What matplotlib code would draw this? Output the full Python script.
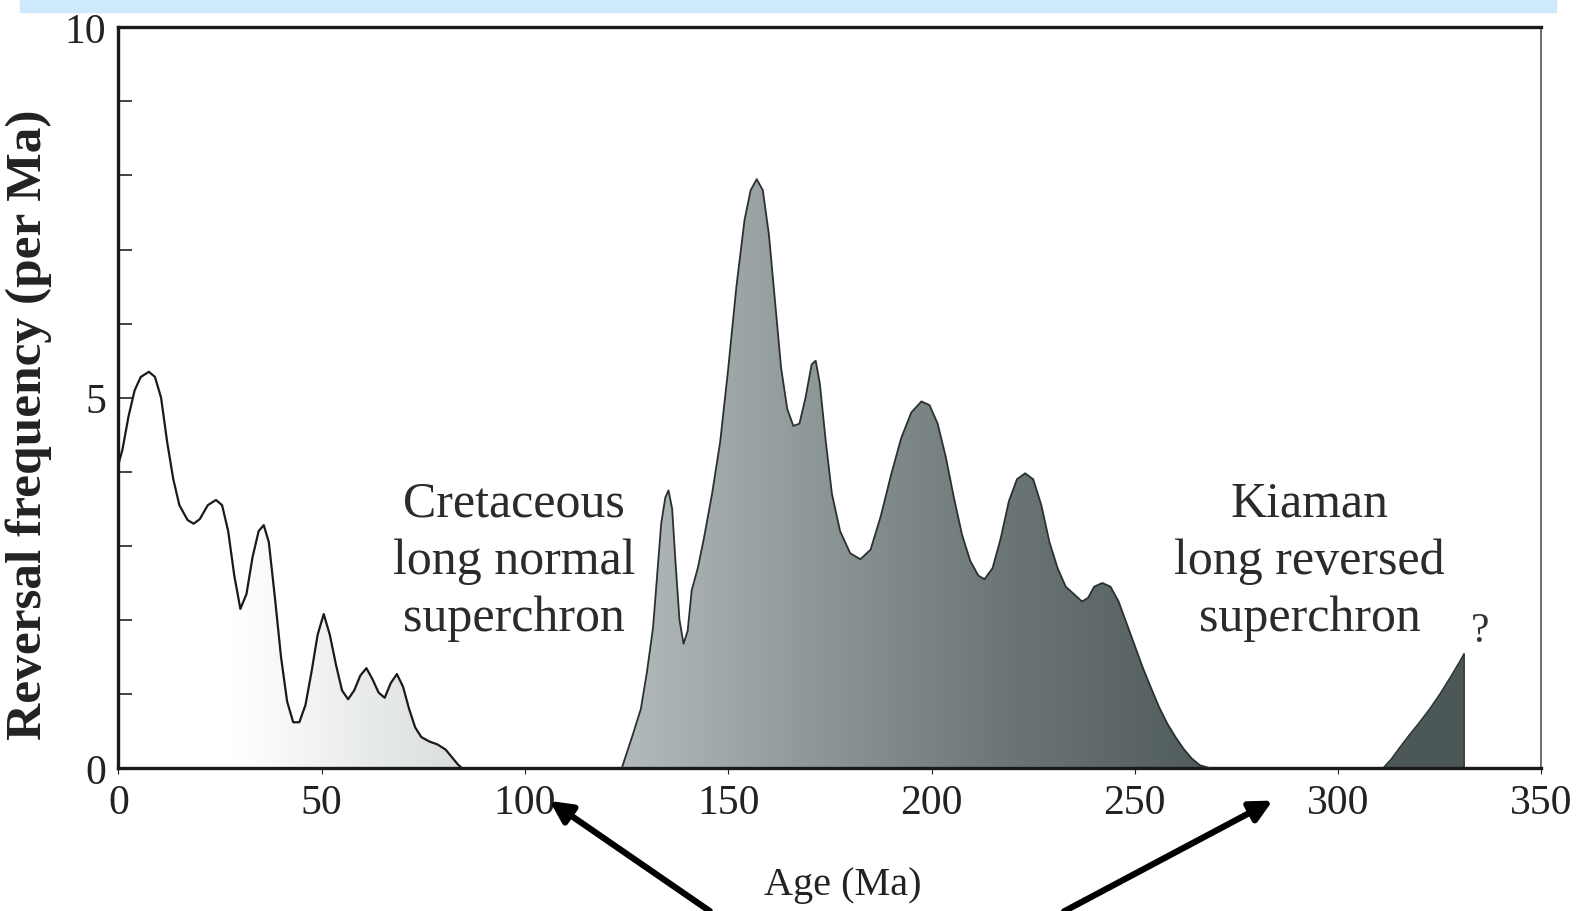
import matplotlib
matplotlib.use('Agg')
import matplotlib.pyplot as plt
import numpy as np
from matplotlib.colors import LinearSegmentedColormap
from matplotlib.patches import Rectangle

# young interval (0-85 Ma), drawn as an outlined curve
age_young = [0, 1, 2.5, 4, 5.5, 7.5, 9, 10.5, 12, 13.5, 15, 17, 18.5, 20, 22, 24, 25.5, 27,
             28.5, 30, 31.5, 33, 34.5, 35.75, 37, 38.5, 40, 41.5, 43, 44.5, 46, 47.5, 49,
             50.5, 52, 53.5, 55, 56.5, 58, 59.5, 61, 62.5, 64, 65.5, 67, 68.5, 70, 71.5,
             73, 74.5, 76.5, 78.5, 80.5, 82, 83.5, 84.5]
freq_young = [4.1, 4.3, 4.75, 5.1, 5.28, 5.35, 5.28, 5.0, 4.4, 3.9, 3.55, 3.35, 3.3, 3.36,
              3.55, 3.62, 3.55, 3.2, 2.6, 2.15, 2.35, 2.85, 3.2, 3.28, 3.05, 2.3, 1.5, 0.9,
              0.62, 0.62, 0.85, 1.3, 1.8, 2.08, 1.8, 1.4, 1.05, 0.93, 1.05, 1.25, 1.35, 1.2,
              1.02, 0.95, 1.15, 1.27, 1.1, 0.8, 0.55, 0.42, 0.36, 0.32, 0.25, 0.15, 0.05, 0.0]

# Jurassic-Triassic interval (124-269 Ma), shaded
age_mid = [123.8, 125, 126.5, 128.5, 130, 131.5, 132.5, 133.5, 134.5, 135.3, 136.2, 137,
           138, 139, 140, 141, 142.5, 144, 146, 148, 150, 152, 154, 155.5, 157, 158.5,
           160, 161.5, 163, 164.5, 166, 167.5, 169, 170.5, 171.5, 172.5, 174, 175.5,
           177.5, 180, 182.5, 185, 187.5, 190, 192.5, 195, 197.5, 199.5, 201.5, 203.5,
           205.5, 207.5, 209.5, 211.5, 213, 215, 217, 219, 221, 223, 225, 227, 229, 231,
           233, 235, 237, 238.5, 240, 242, 244, 246, 248, 250, 252, 254, 256, 258, 260,
           262, 264, 266, 268.5]
freq_mid = [0.0, 0.2, 0.45, 0.8, 1.3, 1.9, 2.6, 3.3, 3.65, 3.75, 3.5, 2.8,
            2.0, 1.68, 1.85, 2.4, 2.7, 3.1, 3.7, 4.4, 5.4, 6.5, 7.4, 7.8, 7.95, 7.8,
            7.2, 6.3, 5.4, 4.85, 4.62, 4.65, 5.0, 5.45, 5.5, 5.2, 4.4, 3.7,
            3.2, 2.9, 2.82, 2.95, 3.4, 3.95, 4.45, 4.8, 4.95, 4.9, 4.65, 4.2,
            3.65, 3.15, 2.8, 2.6, 2.55, 2.7, 3.1, 3.6, 3.9, 3.98, 3.9, 3.55, 3.05, 2.7,
            2.45, 2.35, 2.25, 2.3, 2.45, 2.5, 2.45, 2.25, 1.95, 1.65, 1.35, 1.08, 0.82, 0.6, 0.42,
            0.26, 0.13, 0.04, 0.0]

# oldest interval (311-331 Ma), shaded, cut off at record end
age_old = [311, 313, 315, 317.5, 320, 322.5, 325, 327.5, 330, 331, 331]
freq_old = [0.0, 0.12, 0.27, 0.45, 0.62, 0.8, 1.0, 1.22, 1.45, 1.55, 0.0]

x_ticks = [0, 50, 100, 150, 200, 250, 300, 350]
y_ticks = [0, 5, 10]

plt.rcParams['font.family'] = ['Liberation Serif', 'DejaVu Serif']

fig = plt.figure(figsize=(15.87, 9.12), dpi=100)
fig.patches.append(Rectangle((20 / 1587, 1 - 13 / 912), 1536 / 1587, 13 / 912,
                             transform=fig.transFigure, color='#cde9fb', zorder=0))
ax = fig.add_axes([0.0746, 0.1566, 0.8967, 0.8124])

ax.set_xlim(0, 350)
ax.set_ylim(0, 10)

grad = np.linspace(0, 1, 256).reshape(1, -1)

# faint fill under the young curve
cmap_young = LinearSegmentedColormap.from_list('y', ['#ffffff', '#ffffff', '#eceeee', '#dadddd'])
poly = ax.fill_between(age_young, freq_young, 0, color='none', lw=0)
im = ax.imshow(grad, extent=[0, 85, 0, 10], aspect='auto', cmap=cmap_young, zorder=1)
im.set_clip_path(poly.get_paths()[0], transform=ax.transData)
ax.plot(age_young, freq_young, color='#1a1a1a', lw=1.6, zorder=3)

# shaded middle interval, lighter to darker
cmap_mid = LinearSegmentedColormap.from_list('m', ['#b4bbbd', '#8e9798', '#6a7475', '#505b5c'])
poly = ax.fill_between(age_mid, freq_mid, 0, color='none', lw=0)
im = ax.imshow(grad, extent=[123, 270, 0, 10], aspect='auto', cmap=cmap_mid, zorder=1)
im.set_clip_path(poly.get_paths()[0], transform=ax.transData)
ax.plot(age_mid, freq_mid, color='#2a3030', lw=1.3, zorder=3)

ax.fill(age_old, freq_old, color='#4c5858', lw=1.0, ec='#2a3030', zorder=2)
ax.text(335, 1.85, '?', fontsize=30, ha='center', va='center', color='#333333')

ax.text(97.3, 2.8, 'Cretaceous\nlong normal\nsuperchron', fontsize=36, ha='center',
        va='center', color='#2b2b2b', linespacing=1.3)
ax.text(293, 2.8, 'Kiaman\nlong reversed\nsuperchron', fontsize=36, ha='center',
        va='center', color='#2b2b2b', linespacing=1.3)

ax.set_xticks(x_ticks)
ax.set_yticks(y_ticks)
ax.set_yticks(range(0, 11), minor=True)
ax.tick_params(axis='y', which='both', direction='in', length=10, width=1.2,
               labelsize=30, pad=9, colors='#222222')
ax.tick_params(axis='x', direction='out', length=4, width=0.8, labelsize=30, pad=7,
               colors='#222222')
ax.set_xlabel('Age (Ma)', fontsize=29, color='#222222')
ax.xaxis.set_label_coords(0.509, -0.132)
ax.set_ylabel('Reversal frequency (per Ma)', fontsize=37, fontweight='bold',
              color='#222222')
ax.yaxis.set_label_coords(-0.047, 0.465)

for side in ['top', 'left', 'bottom']:
    ax.spines[side].set_linewidth(2.4)
    ax.spines[side].set_color('#1a1a1a')
ax.spines['right'].set_linewidth(1.2)
ax.spines['right'].set_color('#555555')

for head, tail in [((105.5, -0.42), (146, -1.95)), ((284.5, -0.42), (232, -1.95))]:
    ax.annotate('', xy=head, xytext=tail, xycoords='data', annotation_clip=False,
                arrowprops=dict(arrowstyle='-|>,head_length=1.3,head_width=0.65',
                                color='black', lw=4.5))

fig.savefig('out.png', dpi=100)
